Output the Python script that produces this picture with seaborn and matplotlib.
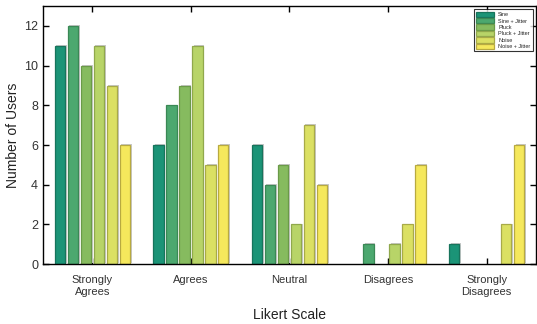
import pandas as pd
import matplotlib
matplotlib.use("Agg")
import matplotlib.pyplot as plt
import matplotlib.patheffects as pe
import seaborn as sns

scale = ["Strongly\nAgrees", "Agrees", "Neutral", "Disagrees", "Strongly\nDisagrees"]
methods = ["Sine", "Sine + Jitter", "Pluck", "Pluck + Jitter", "Noise", "Noise + Jitter"]
sine = [11, 6, 6, 0, 1]
sine_jit = [12, 8, 4, 1, 0]
pluck = [10, 9, 5, 0, 0]
pluck_jit = [11, 11, 2, 1, 0]
noise = [9, 5, 7, 2, 2]
noise_jit = [6, 6, 4, 5, 6]

fills = ["#1b9477", "#4ca86f", "#86bb5f", "#b8d468", "#dbe063", "#f5e85c"]
edges = ["#17745c", "#3a8855", "#6a9a48", "#90a84c", "#a8aa48", "#b8aa40"]

rows = []
for m, vals in zip(methods, [sine, sine_jit, pluck, pluck_jit, noise, noise_jit]):
    for s, v in zip(scale, vals):
        rows.append({"scale": s, "users": v, "method": m})
df = pd.DataFrame(rows)

sns.set_style("ticks")
plt.rcParams["font.family"] = ["Liberation Sans", "DejaVu Sans"]

fig = plt.figure(figsize=(5.37, 3.24), dpi=100)
ax = fig.add_axes([0.08, 0.185, 0.918, 0.796])

sns.barplot(data=df, x="scale", y="users", hue="method", hue_order=methods,
            palette=fills, saturation=1, width=0.79, gap=0.2, ax=ax, linewidth=0.9,
            edgecolor="black", legend=True)

# per-series edge colour and a light shadow
for cont, ec in zip(ax.containers, edges):
    for p in cont.patches:
        p.set_edgecolor(ec)
        p.set_path_effects([pe.SimplePatchShadow(offset=(1.2, 0.6), shadow_rgbFace="#c8c8c8", alpha=1.0),
                            pe.Normal()])
        if p.get_height() == 0:
            p.set_edgecolor("#b8d8cc")
            p.set_linewidth(0.6)

ax.set_xlim(-0.5, 4.5)
ax.set_ylim(0, 13)
ax.set_yticks(range(0, 13, 2))
ax.tick_params(direction="in", top=True, right=True, labelsize=9, length=4, width=1,
               color="black", labelcolor="#333333")
ax.tick_params(axis="x", labelsize=8, pad=8)
for s in ax.spines.values():
    s.set_visible(True)
    s.set_linewidth(1)
    s.set_color("black")
ax.set_ylabel("Number of Users", fontsize=10, color="#222222", labelpad=3)
ax.set_xlabel("Likert Scale", fontsize=10, color="#222222", labelpad=8)

leg = ax.legend(loc="upper right", fontsize=4, frameon=True, fancybox=False,
                edgecolor="black", handlelength=3.2, handleheight=1.1,
                labelspacing=0.15, borderpad=0.4, borderaxespad=0.6)
leg.get_frame().set_linewidth(0.8)
for h, ec in zip(leg.legend_handles, edges):
    h.set_edgecolor(ec)
    h.set_path_effects([])

fig.savefig("out.png", dpi=100)
